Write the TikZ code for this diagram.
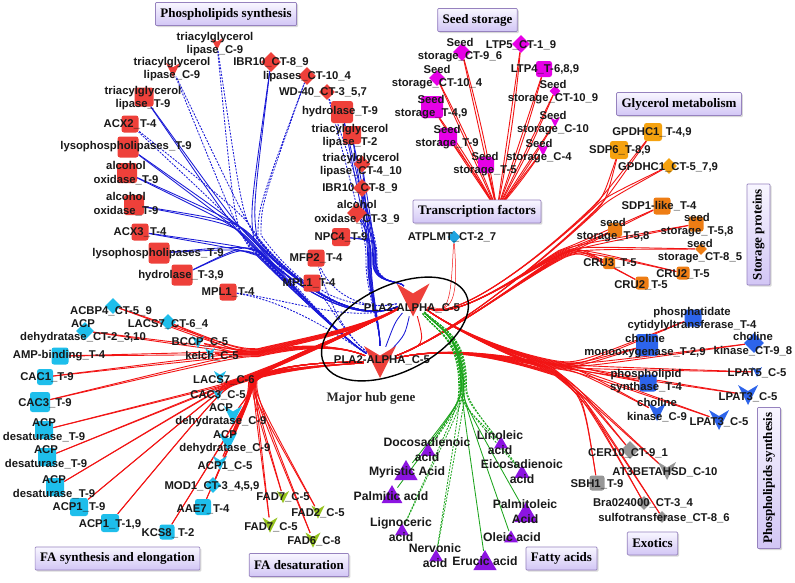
\documentclass[tikz,border=0pt]{standalone}
\usepackage{fontspec}
\usetikzlibrary{shapes.geometric,shadows}
\newfontfamily\lbfont{Liberation Sans}
\newfontfamily\secfont{Liberation Serif}
\definecolor{cRed}{RGB}{238,64,58}
\definecolor{cEdge}{RGB}{242,20,20}
\definecolor{cBlueE}{RGB}{25,25,215}
\definecolor{cBlueN}{RGB}{45,100,235}
\definecolor{cMag}{RGB}{230,0,230}
\definecolor{cOrg}{RGB}{245,162,15}
\definecolor{cOrg2}{RGB}{238,125,20}
\definecolor{cCyan}{RGB}{30,190,235}
\definecolor{cCyanB}{RGB}{30,165,225}
\definecolor{cGray}{RGB}{150,150,150}
\definecolor{cYG}{RGB}{150,195,30}
\definecolor{cPur}{RGB}{140,20,225}
\definecolor{cGreen}{RGB}{30,165,30}
\definecolor{secB}{RGB}{150,130,190}
\definecolor{secF}{RGB}{210,198,245}
\definecolor{secT}{RGB}{248,246,255}
\pgfdeclarelayer{bglayer}
\pgfdeclarelayer{edgelayer}
\pgfsetlayers{bglayer,edgelayer,main}
\newcommand{\Tmk}[5]{\node[sqm, minimum size=#4pt, fill=#5] (#1) at (#2,#3) {};}
\newcommand{\Dmk}[5]{\node[dmm, minimum size=#4pt, fill=#5] (#1) at (#2,#3) {};}
\newcommand{\Vmk}[5]{\node[circle, inner sep=0pt, minimum size=#4pt] (#1) at (#2,#3) {};
  \fill[#5, shift={(#2,#3)}] ({-0.5*#4},{-0.5*#4}) -- (0,{-0.2*#4}) -- ({0.5*#4},{-0.5*#4}) -- (0,{0.5*#4}) -- cycle;}
\newcommand{\Umk}[5]{\node[circle, inner sep=0pt, minimum size=#4pt] (#1) at (#2,#3) {};
  \fill[#5, shift={(#2,#3)}] (0,{-0.55*#4}) -- ({0.58*#4},{0.45*#4}) -- ({-0.58*#4},{0.45*#4}) -- cycle;}
\newcommand{\Lbl}[4]{\node[lbl] (#1) at (#2,#3) {#4};}
\newcommand{\Fal}[4]{\node[fal] (#1) at (#2,#3) {#4};}
\begin{document}
\begin{tikzpicture}[x=1pt,y=-1pt,
  lbl/.style={font=\lbfont\bfseries\fontsize{11.3}{13.5}\selectfont, inner sep=0pt, align=center, text=black!90},
  fal/.style={font=\lbfont\bfseries\fontsize{12.2}{15}\selectfont, inner sep=0pt, align=center, text=black!90},
  sec/.style={draw=secB, line width=0.7pt, rounded corners=1pt, top color=secT, bottom color=secF,
    font=\secfont\bfseries\fontsize{13}{15}\selectfont, inner xsep=5pt, inner ysep=0pt, minimum height=23pt,
    drop shadow={opacity=0.3, shadow xshift=1.5pt, shadow yshift=-1.5pt}, text=black},
  sqm/.style={rectangle, rounded corners=2.5pt, inner sep=0pt},
  dmm/.style={diamond, aspect=1, inner sep=0pt},
  rde/.style={draw=cEdge, line width=0.9pt},
  ble/.style={draw=cBlueE, line width=0.85pt},
  grn/.style={draw=cGreen, line width=0.85pt},
  dsh/.style={dash pattern=on 2pt off 1.3pt}]
\useasboundingbox (0,0) rectangle (795,582);
\begin{pgfonlayer}{bglayer}
\fill[white] (0,0) rectangle (795,582);
\end{pgfonlayer}

% ---------- top-left (blue edges) ----------
\Vmk{tgA}{217}{44}{12}{cRed}
\Vmk{tgB}{173}{70}{14}{cRed}
\Tmk{tgT}{144}{97}{19}{cRed}
\Tmk{acxB}{130}{124}{17}{cRed}
\Tmk{lysoA}{128}{147}{21}{cRed}
\Tmk{alcA}{127}{173}{20}{cRed}
\Tmk{alcB}{134}{205}{20}{cRed}
\Tmk{acxC}{140}{232}{17}{cRed}
\Tmk{lysoB}{159}{253}{21}{cRed}
\Tmk{hydB}{182}{275}{21}{cRed}
\Tmk{mplA}{228}{292}{17}{cRed}
\Dmk{ibrA}{271}{62}{20}{cRed}
\Dmk{lip}{307}{76}{18}{cRed}
\Dmk{wd}{327}{92}{16}{cRed}
\Tmk{hydA}{342}{112}{22}{cRed}
\Tmk{tglB}{352}{135}{18}{cRed}
\Dmk{tglC}{362}{164}{17}{cRed}
\Dmk{ibrB}{362}{188}{18}{cRed}
\Dmk{alcC}{357}{213}{20}{cRed}
\Tmk{npc}{341}{237}{18}{cRed}
\Tmk{mfp}{316}{258}{17}{cRed}
\Tmk{mplB}{312}{283}{17}{cRed}
\Vmk{hA}{413}{300}{33}{cRed}
\Vmk{hB}{380}{362}{32}{cRed}
\coordinate (tfhub) at (497,210);

% ---------- seed storage ----------
\Dmk{ssA}{462}{52}{18}{cMag}
\Dmk{ltpF}{521}{44}{18}{cMag}
\Dmk{ssB}{437}{78}{16}{cMag}
\Tmk{ltpG}{544}{69}{16}{cMag}
\Tmk{ssC}{432}{107}{22}{cMag}
\Dmk{ssD}{555}{91}{11}{cMag}
\Tmk{ssE}{448}{137}{18}{cMag}
\Vmk{ssF}{555}{122}{10}{cMag}
\Vmk{ssG}{543}{150}{12}{cMag}
\Tmk{ssH}{486}{165}{16}{cMag}

% ---------- glycerol / storage proteins ----------
\Tmk{gpA}{653}{132}{18}{cOrg}
\Tmk{sdp}{619}{150}{18}{cOrg}
\Dmk{gpB}{669}{166}{16}{cOrg}
\Tmk{sdpl}{662}{206}{17}{cOrg2}
\Tmk{ssR}{696}{224}{15}{cOrg2}
\Tmk{ssL}{615}{230}{14}{cOrg2}
\Dmk{ssCT}{701}{249}{12}{cOrg2}
\Tmk{cruC}{609}{263}{12}{cOrg2}
\Tmk{cruA}{683}{273}{13}{cOrg2}
\Tmk{cruB}{642}{283}{13}{cOrg2}

% ---------- phospholipids right ----------
\Tmk{pcyt}{693}{318}{17}{cBlueN}
\Tmk{cmo}{647}{345}{22}{cBlueN}
\Dmk{ckA}{754}{343}{20}{cBlueN}
\Vmk{lpatF}{757}{372}{10}{cBlueN}
\Tmk{pls}{648}{383}{17}{cBlueN}
\Vmk{lpatA}{748}{395}{20}{cBlueN}
\Vmk{ckB}{657}{412}{18}{cBlueN}
\Vmk{lpatB}{719}{420}{20}{cBlueN}

% ---------- exotics ----------
\Dmk{cer}{630}{450}{18}{cGray}
\Vmk{at3}{667}{471}{18}{cGray}
\Tmk{sbh}{597}{483}{15}{cGray}
\Dmk{bra}{644}{503}{14}{cGray}
\Dmk{sulf}{662}{517}{12}{cGray}

% ---------- fatty acids ----------
\Umk{doco}{428}{450}{13}{cPur}
\Umk{myr}{406}{471}{20}{cPur}
\Umk{palm}{392}{495}{18}{cPur}
\Umk{lig}{402}{530}{12}{cPur}
\Umk{nerv}{436}{556}{12}{cPur}
\Umk{eru}{485}{561}{20}{cPur}
\Umk{lino}{501}{443}{12}{cPur}
\Umk{eico}{522}{472}{13}{cPur}
\Umk{palmo}{526}{513}{20}{cPur}
\Umk{ole}{511}{537}{12}{cPur}

% ---------- FA desaturation ----------
\Vmk{fadA}{283}{497}{12}{cYG}
\Vmk{fadB}{318}{512}{13}{cYG}
\Vmk{fadC}{270}{525}{15}{cYG}
\Vmk{fadD}{313}{540}{15}{cYG}

% ---------- FA synthesis ----------
\Dmk{acbp}{113}{306}{16}{cCyan}
\Dmk{lacsCT}{168}{322}{16}{cCyan}
\Dmk{acpd}{85}{331}{18}{cCyan}
\Vmk{bccp}{198}{342}{12}{cCyan}
\Tmk{amp}{60}{356}{17}{cCyan}
\Vmk{kelch}{210}{353}{10}{cCyan}
\Tmk{cacA}{45}{377}{16}{cCyan}
\Vmk{lacsC}{220}{377}{12}{cCyan}
\Tmk{cacT}{40}{402}{20}{cCyan}
\Vmk{cacC}{218}{395}{10}{cCyan}
\Vmk{dehA}{233}{415}{18}{cCyan}
\Tmk{desA}{44}{430}{18}{cCyan}
\Vmk{dehB}{228}{442}{18}{cCyan}
\Tmk{desB}{47}{457}{18}{cCyan}
\Vmk{acpC}{220}{463}{14}{cCyan}
\Tmk{desC}{55}{487}{18}{cCyan}
\Dmk{mod}{213}{485}{16}{cCyan}
\Tmk{acpT}{79}{507}{18}{cCyan}
\Tmk{aae}{203}{507}{16}{cCyan}
\Tmk{acpTT}{110}{523}{18}{cCyan}
\Tmk{kcs}{167}{532}{15}{cCyan}
\Dmk{atp}{454}{237}{13}{cCyanB}

% ---------- labels ----------
\Lbl{l-tgA}{215}{44}{triacylglycerol\\lipase\_C-9}
\Lbl{l-tgB}{172}{69}{triacylglycerol\\lipase\_C-9}
\Lbl{l-tgT}{143}{98}{triacylglycerol\\lipase\_T-9}
\Lbl{l-acxB}{130}{124}{ACX2\_T-4}
\Lbl{l-lysoA}{126}{147}{lysophospholipases\_T-9}
\Lbl{l-alcA}{126}{173}{alcohol\\oxidase\_T-9}
\Lbl{l-alcB}{126}{204}{alcohol\\oxidase\_T-9}
\Lbl{l-acxC}{140}{232}{ACX3\_T-4}
\Lbl{l-lysoB}{158}{254}{lysophospholipases\_T-9}
\Lbl{l-hydB}{181}{276}{hydrolase\_T-3,9}
\Lbl{l-mplA}{228}{292}{MPL1\_T-4}
\Lbl{l-ibrA}{271}{62}{IBR10\_CT-8\_9}
\Lbl{l-lip}{307}{77}{lipases\_CT-10\_4}
\Lbl{l-wd}{323}{92}{WD-40\_CT-3\_5,7}
\Lbl{l-hydA}{340}{112}{hydrolase\_T-9}
\Lbl{l-tglB}{350}{136}{triacylglycerol\\lipase\_T-2}
\Lbl{l-tglC}{361}{165}{triacylglycerol\\lipase\_CT-4\_10}
\Lbl{l-ibrB}{360}{188}{IBR10\_CT-8\_9}
\Lbl{l-alcC}{357}{212}{alcohol\\oxidase\_CT-3\_9}
\Lbl{l-npc}{341}{237}{NPC4\_T-9}
\Lbl{l-mfp}{316}{258}{MFP2\_T-4}
\Lbl{l-mplB}{309}{283}{MPL1\_T-4}
\Lbl{l-hA}{412}{308}{PLA2-ALPHA\_C-5}
\Lbl{l-hB}{382}{360}{PLA2-ALPHA\_C-5}

\Lbl{l-ssA}{460}{50}{Seed\\storage\_CT-9\_6}
\Lbl{l-ltpF}{521}{45}{LTP5\_CT-1\_9}
\Lbl{l-ssB}{437}{77}{Seed\\storage\_CT-10\_4}
\Lbl{l-ltpG}{545}{69}{LTP4\_T-6,8,9}
\Lbl{l-ssC}{431}{107}{Seed\\storage\_T-4,9}
\Lbl{l-ssD}{553}{92}{Seed\\storage\_CT-10\_9}
\Lbl{l-ssE}{447}{137}{Seed\\storage\_T-9}
\Lbl{l-ssF}{553}{123}{Seed\\storage\_C-10}
\Lbl{l-ssG}{539}{151}{Seed\\storage\_C-4}
\Lbl{l-ssH}{485}{164}{Seed\\storage\_T-5}

\Lbl{l-gpA}{652}{132}{GPDHC1\_T-4,9}
\Lbl{l-sdp}{620}{150}{SDP6\_T-8,9}
\Lbl{l-gpB}{668}{167}{GPDHC1\_CT-5\_7,9}
\Lbl{l-sdpl}{659}{206}{SDP1-like\_T-4}
\Lbl{l-ssR}{697}{225}{seed\\storage\_T-5,8}
\Lbl{l-ssL}{613}{230}{seed\\storage\_T-5,8}
\Lbl{l-ssCT}{700}{251}{seed\\storage\_CT-8\_5}
\Lbl{l-cruC}{610}{263}{CRU3\_T-5}
\Lbl{l-cruA}{683}{274}{CRU2\_T-5}
\Lbl{l-cruB}{641}{285}{CRU2\_T-5}

\Lbl{l-pcyt}{692}{319}{phosphatidate\\cytidylyltransferase\_T-4}
\Lbl{l-cmo}{645}{346}{choline\\monooxygenase\_T-2,9}
\Lbl{l-ckA}{753}{344}{choline\\kinase\_CT-9\_8}
\Lbl{l-lpatF}{757}{373}{LPAT5\_C-5}
\Lbl{l-pls}{646}{381}{phospholipid\\synthase\_T-4}
\Lbl{l-lpatA}{748}{397}{LPAT3\_C-5}
\Lbl{l-ckB}{657}{410}{choline\\kinase\_C-9}
\Lbl{l-lpatB}{719}{422}{LPAT3\_C-5}

\Lbl{l-cer}{628}{453}{CER10\_CT-9\_1}
\Lbl{l-at3}{665}{472}{AT3BETAHSD\_C-10}
\Lbl{l-sbh}{597}{484}{SBH1\_T-9}
\Lbl{l-bra}{643}{503}{Bra024000\_CT-3\_4}
\Lbl{l-sulf}{664}{518}{sulfotransferase\_CT-8\_6}

\Fal{l-doco}{427}{450}{Docosadienoic\\acid}
\Fal{l-myr}{407}{472}{Myristic Acid}
\Fal{l-palm}{391}{496}{Palmitic acid}
\Fal{l-lig}{401}{530}{Lignoceric\\acid}
\Fal{l-nerv}{435}{556}{Nervonic\\acid}
\Fal{l-eru}{485}{561}{Erucic acid}
\Fal{l-lino}{500}{443}{Linoleic\\acid}
\Fal{l-eico}{522}{472}{Eicosadienoic\\acid}
\Fal{l-palmo}{525}{512}{Palmitoleic\\Acid}
\Fal{l-ole}{512}{537}{Oleic acid}

\Lbl{l-fadA}{283}{497}{FAD7\_C-5}
\Lbl{l-fadB}{318}{513}{FAD2\_C-5}
\Lbl{l-fadC}{271}{527}{FAD7\_C-5}
\Lbl{l-fadD}{314}{541}{FAD6\_C-8}

\Lbl{l-acbp}{111}{311}{ACBP4\_CT-5\_9}
\Lbl{l-lacsCT}{168}{324}{LACS7\_CT-6\_4}
\Lbl{l-acpd}{83}{331}{ACP\\dehydratase\_CT-2\_3,10}
\Lbl{l-bccp}{200}{342}{BCCP\_C-5}
\Lbl{l-amp}{59}{356}{AMP-binding\_T-4}
\Lbl{l-kelch}{212}{356}{kelch\_C-5}
\Lbl{l-cacA}{47}{377}{CAC1\_T-9}
\Lbl{l-lacsC}{224}{380}{LACS7\_C-6}
\Lbl{l-cacT}{45}{403}{CAC3\_T-9}
\Lbl{l-cacC}{218}{395}{CAC3\_C-5}
\Lbl{l-dehA}{221}{415}{ACP\\dehydratase\_C-9}
\Lbl{l-desA}{44}{430}{ACP\\desaturase\_T-9}
\Lbl{l-dehB}{225}{442}{ACP\\dehydratase\_C-9}
\Lbl{l-desB}{46}{457}{ACP\\desaturase\_T-9}
\Lbl{l-acpC}{225}{466}{ACP1\_C-5}
\Lbl{l-desC}{54}{487}{ACP\\desaturase\_T-9}
\Lbl{l-mod}{212}{486}{MOD1\_CT-3\_4,5,9}
\Lbl{l-acpT}{79}{507}{ACP1\_T-9}
\Lbl{l-aae}{203}{509}{AAE7\_T-4}
\Lbl{l-acpTT}{110}{524}{ACP1\_T-1,9}
\Lbl{l-kcs}{168}{533}{KCS8\_T-2}
\Lbl{l-atp}{452}{237}{ATPLMT\_CT-2\_7}

% ---------- hub ellipse ----------
\draw[black, line width=1.4pt, shift={(395,329)}, rotate=26] (0,0) ellipse [x radius=79, y radius=43];
\node[font=\secfont\bfseries\fontsize{13}{15}\selectfont, text=black!85] (mhg) at (371,398) {Major hub gene};

% ---------- section boxes ----------
\node[sec] (s-ps1) at (226,14) {Phospholipids synthesis};
\node[sec] (s-ss) at (477.5,20) {Seed storage};
\node[sec] (s-gm) at (679,104) {Glycerol metabolism};
\node[sec] (s-tf) at (477,211.5) {Transcription factors};
\node[sec, rotate=90] (s-sp) at (758.5,234.5) {Storage proteins};
\node[sec, rotate=90] (s-ps2) at (769,478) {Phospholipids synthesis};
\node[sec] (s-ex) at (652.5,543.5) {Exotics};
\node[sec] (s-fa) at (561.5,558.5) {Fatty acids};
\node[sec] (s-fd) at (299,565) {FA desaturation};
\node[sec] (s-fs) at (117.5,558.5) {FA synthesis and elongation};

% ---------- connectors ----------
\begin{pgfonlayer}{edgelayer}
% blue, left bundle
\foreach \n [count=\i] in {tgT,lysoA,alcA,alcB}{
  \draw[ble] (hB) .. controls (345,340) and (292,287) .. ({250+0.6*\i},{245-0.6*\i}) .. controls +(-18,-18) .. (\n);
  \draw[ble] (hA) .. controls (355,325) and (295,284) .. ({253+0.6*\i},{242-0.6*\i}) .. controls +(-18,-18) .. (\n);}
\foreach \n [count=\i] in {tgA,tgB,acxB}{
  \draw[ble,dsh] (hB) .. controls (345,340) and (292,287) .. ({248+0.6*\i},{247-0.6*\i}) .. controls +(-14,-22) .. (\n);
  \draw[ble,dsh] (hA) .. controls (355,325) and (295,284) .. ({256+0.6*\i},{239-0.6*\i}) .. controls +(-14,-22) .. (\n);}
\draw[ble] (hB) .. controls (345,340) and (292,287) .. (254,241) .. controls +(-4,-30) .. (ibrA);
\draw[ble] (hA) .. controls (355,325) and (295,284) .. (257,238) .. controls +(-4,-30) .. (ibrA);
\draw[ble,dsh] (hB) .. controls (345,340) and (292,287) .. (258,238) .. controls +(0,-30) .. (lip);
\draw[ble,dsh] (hA) .. controls (355,325) and (295,284) .. (261,235) .. controls +(0,-30) .. (lip);
\foreach \n [count=\i] in {acxC,lysoB,hydB}{
  \draw[ble] (hB) .. controls (345,340) and (292,290) .. ({256+0.6*\i},{256-0.6*\i}) .. controls +(-18,-6) .. (\n);
  \draw[ble] (hA) .. controls (355,325) and (296,288) .. ({259+0.6*\i},{253-0.6*\i}) .. controls +(-18,-6) .. (\n);}
\draw[ble,dsh] (hB) .. controls (345,340) and (292,302) .. (mplA);
\draw[ble,dsh] (hA) .. controls (355,325) and (292,300) .. (mplA);
% blue, top bundle
\foreach \n [count=\i] in {hydA,tglB,tglC,ibrB,alcC,npc}{
  \draw[ble] (hB) .. controls (380,325) and ({367+0.7*\i},292) .. ({367+0.7*\i},262) .. controls +(0,-22) .. (\n);
  \draw[ble] (hA) .. controls (400,280) and ({372+0.7*\i},285) .. ({372+0.7*\i},262) .. controls +(0,-22) .. (\n);}
\draw[ble,dsh] (hB) .. controls (380,325) and (366,292) .. (366,262) .. controls +(0,-22) .. (wd);
\draw[ble,dsh] (hA) .. controls (400,280) and (377,285) .. (377,262) .. controls +(0,-22) .. (wd);
\foreach \n in {mfp,mplB}{
  \draw[ble,dsh] (hB) .. controls (345,335) and (330,305) .. (\n);
  \draw[ble,dsh] (hA) .. controls (370,310) and (335,300) .. (\n);}
\draw[ble] (hA) .. controls (405,335) .. (hB);
\draw[ble] (hA) .. controls (395,322) .. (hB);
\draw[rde] (hA) .. controls (425,345) .. (hB);

% seed storage
\foreach \n in {ssA,ltpF,ssB,ltpG,ssC,ssD,ssE,ssF,ssG,ssH}{
  \draw[rde] (tfhub) -- (\n);
  \draw[rde] (tfhub) to[bend right=3] (\n);}

% glycerol metabolism
\foreach \n [count=\i] in {gpA,sdp,gpB}{
  \draw[rde] (hA) .. controls (455,322) and (535,262) .. ({590+0.6*\i},{208+0.6*\i}) .. controls +(12,-12) .. (\n);
  \draw[rde] (hB) .. controls (450,335) and (535,268) .. ({593+0.6*\i},{211+0.6*\i}) .. controls +(12,-12) .. (\n);}
% storage proteins
\foreach \n [count=\i] in {sdpl,ssR,ssL,ssCT,cruC,cruA,cruB}{
  \draw[rde] (hA) .. controls (455,322) and (520,275) .. ({558+0.6*\i},{250+0.6*\i}) .. controls +(16,-6) .. (\n);
  \draw[rde] (hB) .. controls (450,335) and (520,280) .. ({561+0.6*\i},{253+0.6*\i}) .. controls +(16,-6) .. (\n);}
% phospholipids (right)
\foreach \n [count=\i] in {pcyt,cmo,ckA,lpatF,pls,lpatA,ckB,lpatB}{
  \draw[rde] (hA) .. controls (455,330) and (510,{352+0.6*\i}) .. (555,{360+0.7*\i}) .. controls +(22,3) .. (\n);
  \draw[rde] (hB) .. controls (450,345) and (510,{356+0.6*\i}) .. (555,{363+0.7*\i}) .. controls +(22,3) .. (\n);}
% exotics
\foreach \n [count=\i] in {cer,at3,sbh,bra,sulf}{
  \draw[rde] (hA) .. controls (455,330) and (510,{355+0.6*\i}) .. (555,{369+0.7*\i}) .. controls +(28,22) .. (\n);
  \draw[rde] (hB) .. controls (450,345) and (510,{358+0.6*\i}) .. (555,{372+0.7*\i}) .. controls +(28,22) .. (\n);}

% fatty acids
\foreach \n [count=\i] in {myr,palm,eru,palmo,ole}{
  \draw[grn] (hA) .. controls (440,330) and ({460+0.7*\i},335) .. ({460+0.7*\i},385) .. controls +(0,16) .. (\n);}
\foreach \n [count=\i] in {doco,lig,nerv,lino,eico}{
  \draw[grn,dsh] (hA) .. controls (440,328) and ({463+0.7*\i},333) .. ({463+0.7*\i},383) .. controls +(0,16) .. (\n);
  \draw[grn,dsh] (hA) .. controls (436,332) and ({458+0.7*\i},337) .. ({458+0.7*\i},387) .. controls +(0,16) .. (\n);}

% FA synthesis, upper-left fan
\foreach \n [count=\i] in {acbp,lacsCT,acpd,bccp,amp,kelch,cacA,cacT}{
  \draw[rde] (hA) .. controls (360,{328+0.6*\i}) and (300,{338+0.6*\i}) .. (258,{348+0.7*\i}) .. controls +(-20,0) .. (\n);
  \draw[rde] (hB) .. controls (340,345) and (300,{342+0.6*\i}) .. (258,{351+0.7*\i}) .. controls +(-20,0) .. (\n);}
% FA synthesis, lower-left fan
\foreach \n [count=\i] in {lacsC,cacC,desA,desB,desC,acpT,acpTT}{
  \draw[rde] (hB) .. controls (330,365) and (280,{366+0.6*\i}) .. (238,{379+0.7*\i}) .. controls +(-16,5) .. (\n);
  \draw[rde] (hA) .. controls (350,335) and (285,{360+0.6*\i}) .. (240,{377+0.7*\i}) .. controls +(-16,5) .. (\n);}
% downward fan
\foreach \n [count=\i] in {dehA,dehB,acpC,mod,aae,kcs,fadA,fadB,fadC,fadD}{
  \draw[rde] (hB) .. controls (320,362) and ({268+0.6*\i},365) .. ({248+0.7*\i},382) .. controls +(-1,14) .. (\n);
  \draw[rde] (hA) .. controls (350,335) and ({272+0.6*\i},360) .. ({250+0.7*\i},380) .. controls +(-1,14) .. (\n);}
% ATPLMT
\draw[rde,line width=0.5pt] (hA) .. controls (452,322) and (451,285) .. (atp);
\draw[rde,line width=0.5pt] (hA) .. controls (458,318) and (457,285) .. (atp);
\end{pgfonlayer}
\end{tikzpicture}
\end{document}
